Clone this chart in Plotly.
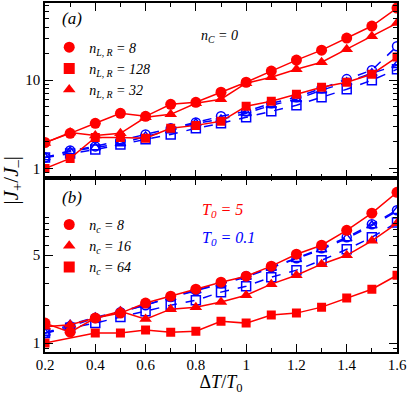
import plotly.graph_objects as go
from plotly.subplots import make_subplots

# shared x values (Delta T / T0)
dt = [0.2, 0.3, 0.4, 0.5, 0.6, 0.7, 0.8, 0.9, 1.0, 1.1, 1.2, 1.3, 1.4, 1.5, 1.6]

# panel (a): n_C = 0, red = T0 5, blue = T0 0.1
a_red_n8 = [1.97, 2.5, 3.25, 4.22, 3.90, 5.34, 5.62, 7.31, 9.49, 12.7, 16.9, 21.9, 30.0, 41.1, 65.8]
a_red_n32 = [1.95, 2.56, 2.37, 2.5, 3.8, 4.11, 5.48, 6.09, 9.25, 10.8, 13.3, 16.0, 22.5, 31.6, 44.4]
a_red_n128 = [1.0, 1.30, 2.25, 2.25, 2.2, 2.85, 3.08, 3.42, 5.07, 5.77, 6.93, 8.33, 9.49, 11.7, 18.3]
a_blue_n8 = [1.33, 1.60, 1.78, 2.08, 2.43, 2.85, 3.33, 3.90, 4.44, 5.48, 6.41, 8.11, 10.3, 13.0, 24.3]
a_blue_n32 = [1.33, 1.56, 1.73, 1.92, 2.31, 2.70, 3.25, 3.60, 4.22, 5.2, 6.09, 7.7, 9.49, 12.0, 14.8]
a_blue_n128 = [1.33, 1.48, 1.64, 1.87, 2.14, 2.43, 2.85, 3.25, 3.80, 4.44, 5.2, 6.41, 7.9, 10.0, 13.3]

# panel (b): varying n_c
b_red_nc8 = [1.44, 1.22, 1.58, 1.73, 2.08, 2.36, 2.68, 3.05, 3.40, 4.09, 5.09, 6.0, 7.88, 10.8, 15.8]
b_red_nc16 = [1.35, 1.40, 1.58, 1.79, 1.55, 1.86, 1.93, 2.12, 2.40, 2.94, 3.46, 4.24, 4.99, 6.5, 8.96]
b_red_nc64 = [1.0, None, 1.20, 1.20, 1.27, 1.22, 1.24, 1.49, 1.44, 1.67, 1.73, 1.93, 2.28, 2.68, 3.46]
b_blue_nc8 = [1.20, 1.36, 1.58, 1.76, 2.0, 2.32, 2.63, 2.99, 3.40, 4.01, 4.73, 5.67, 6.94, 8.8, 11.4]
b_blue_nc16 = [1.20, 1.40, 1.60, 1.78, 2.0, 2.30, 2.62, 2.95, 3.35, 3.95, 4.65, 5.55, 6.8, 8.6, 11.2]
b_blue_nc64 = [1.20, 1.32, 1.44, 1.61, 1.79, 2.0, 2.19, 2.54, 2.83, 3.34, 3.80, 4.55, 5.57, 6.94, 9.1]

x_ticks = [0.2, 0.4, 0.6, 0.8, 1.0, 1.2, 1.4, 1.6]
x_ticktext = ["0.2", "0.4", "0.6", "0.8", "1", "1.2", "1.4", "1.6"]
x_minor = [0.3, 0.5, 0.7, 0.9, 1.1, 1.3, 1.5]

RED = "#ff0000"
BLUE = "#0000ff"
FONT = "Liberation Serif"

fig = make_subplots(rows=2, cols=1, shared_xaxes=True, vertical_spacing=0)


def red(y, sym, row, size=10):
    fig.add_trace(go.Scatter(
        x=dt, y=y, mode="lines+markers", connectgaps=True, showlegend=False,
        line=dict(color=RED, width=1.5),
        marker=dict(symbol=sym, size=size, color=RED)
    ), row=row, col=1)


def blue(y, sym, row, size=9):
    fig.add_trace(go.Scatter(
        x=dt, y=y, mode="lines+markers", connectgaps=True, showlegend=False,
        line=dict(color=BLUE, width=1.5, dash="dash"),
        marker=dict(symbol=sym + "-open", size=size, color=BLUE, line=dict(width=1.5))
    ), row=row, col=1)


# blue first so red sits on top like the original
blue(a_blue_n128, "square", 1)
blue(a_blue_n32, "triangle-up", 1)
blue(a_blue_n8, "circle", 1)
red(a_red_n128, "square", 1, 9)
red(a_red_n32, "triangle-up", 1, 11)
red(a_red_n8, "circle", 1, 11)

blue(b_blue_nc64, "square", 2)
blue(b_blue_nc16, "triangle-up", 2)
blue(b_blue_nc8, "circle", 2)
red(b_red_nc64, "square", 2, 9)
red(b_red_nc16, "triangle-up", 2, 11)
red(b_red_nc8, "circle", 2, 11)

# legend-only entries (markers without lines)
leg_a = [("circle", "8"), ("square", "128"), ("triangle-up", "32")]
for sym, n in leg_a:
    fig.add_trace(go.Scatter(
        x=[None], y=[None], mode="markers", legend="legend",
        marker=dict(symbol=sym, size=11, color=RED),
        name="<i>n</i><sub><i>L, R</i></sub><i> = " + n + "</i>"
    ), row=1, col=1)
leg_b = [("circle", "8"), ("triangle-up", "16"), ("square", "64")]
for sym, n in leg_b:
    fig.add_trace(go.Scatter(
        x=[None], y=[None], mode="markers", legend="legend2",
        marker=dict(symbol=sym, size=11, color=RED),
        name="<i>n</i><sub><i>c</i></sub><i> = " + n + "</i>"
    ), row=2, col=1)

axis_common = dict(
    showline=True, linecolor="black", linewidth=1.5, mirror="allticks",
    ticks="inside", ticklen=8, tickwidth=1.2, tickcolor="black",
    showgrid=False, zeroline=False, automargin=False,
    tickfont=dict(family=FONT, size=15, color="black"),
)

fig.update_xaxes(
    range=[0.2, 1.6], tickvals=x_ticks, ticktext=x_ticktext, ticklabelstandoff=-2,
    minor=dict(tickvals=x_minor, ticks="inside", ticklen=4, tickcolor="black", tickwidth=1.2),
    **axis_common
)
fig.update_xaxes(showticklabels=False, row=1, col=1)
fig.update_xaxes(
    title=dict(text="Δ<i>T</i>/<i>T</i><sub>0</sub>", font=dict(family=FONT, size=18, color="black"), standoff=4),
    row=2, col=1
)

fig.update_yaxes(
    type="log", range=[-0.102, 1.875], tickvals=[1, 10], ticktext=["1", "10"],
    minor=dict(tickvals=[0.8, 0.9, 2, 3, 4, 5, 6, 7, 8, 9, 20, 30, 40, 50, 60, 70],
               ticks="inside", ticklen=4, tickcolor="black", tickwidth=1.2),
    row=1, col=1, **axis_common
)
fig.update_yaxes(
    type="log", range=[-0.0714, 1.317], tickvals=[1, 5], ticktext=["1", "5"],
    minor=dict(tickvals=[0.9, 2, 3, 4, 6, 7, 8, 9, 10, 20],
               ticks="inside", ticklen=4, tickcolor="black", tickwidth=1.2),
    row=2, col=1, **axis_common
)


def note(x, y, text, size, color="black", angle=0, xanchor="center"):
    fig.add_annotation(x=x, y=y, xref="paper", yref="paper", text=text,
                       xanchor=xanchor, yanchor="middle", textangle=angle,
                       showarrow=False, font=dict(family=FONT, size=size, color=color))


note(0.077, 0.955, "<i>(a)</i>", 17)
note(0.077, 0.442, "<i>(b)</i>", 17)
note(0.496, 0.905, "<i>n</i><sub><i>C</i></sub><i> = 0</i>", 14)
note(0.44, 0.405, "<i>T</i><sub><i>0</i></sub><i> = 5</i>", 16, RED, xanchor="left")
note(0.44, 0.325, "<i>T</i><sub><i>0</i></sub><i> = 0.1</i>", 16, BLUE, xanchor="left")
note(-0.095, 0.493, "|<i>J</i><sub>+</sub>/<i>J</i><sub>–</sub>|", 21, angle=-90)

leg_style = dict(bgcolor="rgba(0,0,0,0)", borderwidth=0, xanchor="left", yanchor="top",
                 font=dict(family=FONT, size=14, color="black"), itemwidth=30,
                 tracegroupgap=0)
fig.update_layout(
    width=407, height=395,
    margin=dict(l=45, r=10, t=3, b=43),
    plot_bgcolor="white", paper_bgcolor="white",
    font=dict(family=FONT, color="black"),
    legend=dict(x=0.012, y=0.918, **leg_style),
    legend2=dict(x=0.012, y=0.41, **leg_style),
)

# page body has a default margin; drop it so the figure sits at 0,0
fig.write_html("out.html", config={"displayModeBar": False},
               post_script="document.body.style.margin='0px';")
